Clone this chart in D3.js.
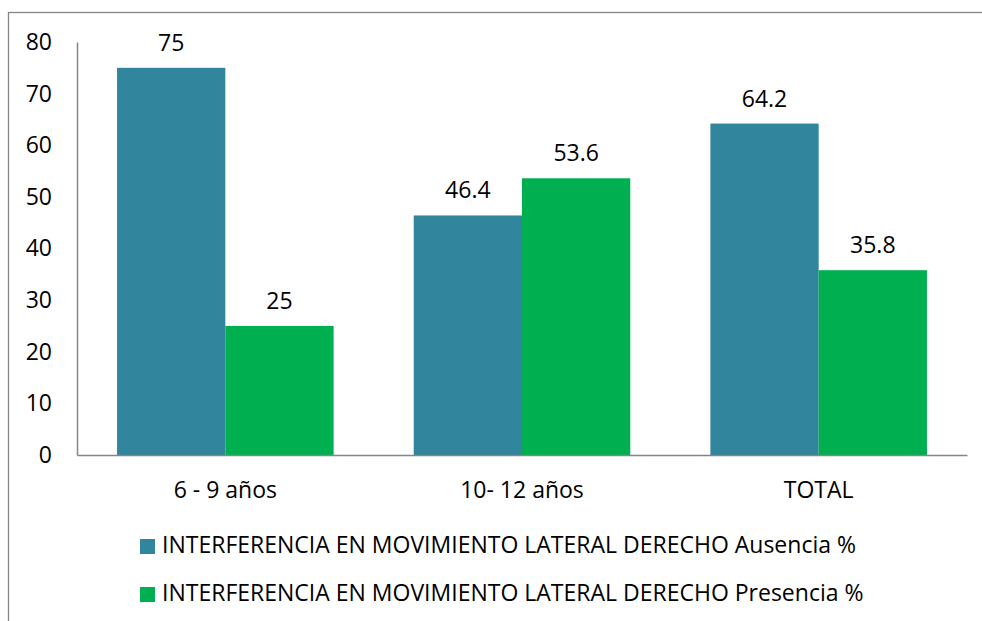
<!DOCTYPE html>
<html>
<head>
<meta charset="utf-8">
<script src="https://cdn.jsdelivr.net/npm/d3@7"></script>
<style>
  body { margin: 0; background: #fff; }
  text { font-family: "Open Sans", sans-serif; fill: #000; }
</style>
</head>
<body>
<svg id="chart"></svg>
<script>
// chart values
const categories = ["6 - 9 años", "10- 12 años", "TOTAL"];
const seriesNames = [
  "INTERFERENCIA EN MOVIMIENTO LATERAL DERECHO Ausencia %",
  "INTERFERENCIA EN MOVIMIENTO LATERAL DERECHO Presencia %"
];
const ausencia = [75, 46.4, 64.2];
const presencia = [25, 53.6, 35.8];
const yTicks = [0, 10, 20, 30, 40, 50, 60, 70, 80];
const colors = ["#31859c", "#00b050"];

((() => {
  var width = 982, height = 621;
  var plot = {left: 77, right: 967, top: 42, bottom: 455};
  var fontSize = 23;

  var svg = d3.select("#chart")
    .attr("width", width)
    .attr("height", height);

  // outer chart frame (runs off the picture at right and bottom)
  svg.append("rect")
    .attr("x", 8.5).attr("y", 12.5)
    .attr("width", 1000).attr("height", 700)
    .attr("fill", "none")
    .attr("stroke", "#868686")
    .attr("stroke-width", 1.3);

  var x = d3.scaleBand()
    .domain(categories)
    .range([plot.left, plot.right])
    .paddingInner(0.27)
    .paddingOuter(0.135);

  var xSub = d3.scaleBand()
    .domain([0, 1])
    .range([0, x.bandwidth()]);

  var y = d3.scaleLinear()
    .domain([0, 80])
    .range([plot.bottom, plot.top]);

  // bars
  var series = [ausencia, presencia];
  var groups = svg.append("g").selectAll("g")
    .data(categories)
    .enter()
    .append("g")
    .attr("transform", d => "translate(" + x(d) + ",0)");

  groups.selectAll("rect")
    .data((d, i) => series.map((s, k) => ({k: k, v: s[i]})))
    .enter()
    .append("rect")
    .attr("x", d => xSub(d.k))
    .attr("y", d => y(d.v))
    .attr("width", xSub.bandwidth())
    .attr("height", d => y(0) - y(d.v))
    .attr("fill", d => colors[d.k]);

  // value labels
  groups.selectAll("text")
    .data((d, i) => series.map((s, k) => ({k: k, v: s[i]})))
    .enter()
    .append("text")
    .attr("x", d => xSub(d.k) + xSub.bandwidth() / 2)
    .attr("y", d => y(d.v) - 17)
    .attr("text-anchor", "middle")
    .attr("font-size", fontSize)
    .text(d => d.v);

  // y axis
  var yAxis = svg.append("g")
    .attr("transform", "translate(" + plot.left + ",0)")
    .call(d3.axisLeft(y).tickValues(yTicks).tickSize(0).tickPadding(25));
  yAxis.select(".domain").attr("stroke", "#868686").attr("stroke-width", 1.5);
  yAxis.selectAll("text").attr("font-size", fontSize).attr("font-family", "'Open Sans', sans-serif");

  // x axis
  var xAxis = svg.append("g")
    .attr("transform", "translate(0," + plot.bottom + ")")
    .call(d3.axisBottom(x).tickSize(0).tickPadding(27));
  xAxis.select(".domain").attr("stroke", "#868686").attr("stroke-width", 1.5);
  xAxis.selectAll("text").attr("font-size", fontSize).attr("font-family", "'Open Sans', sans-serif");

  // legend
  var legend = svg.append("g").selectAll("g")
    .data(seriesNames)
    .enter()
    .append("g")
    .attr("transform", (d, i) => "translate(140," + (539 + i * 48) + ")");

  legend.append("rect")
    .attr("width", 15).attr("height", 15)
    .attr("fill", (d, i) => colors[i]);

  legend.append("text")
    .attr("x", 22).attr("y", 14)
    .attr("font-size", fontSize)
    .text(d => d);
})());
</script>
</body>
</html>
